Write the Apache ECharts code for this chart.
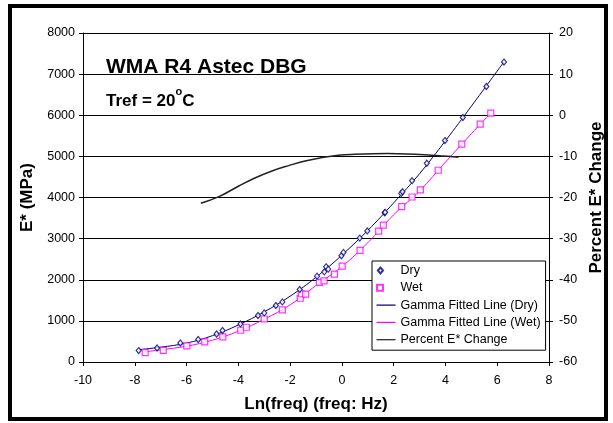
<!DOCTYPE html>
<html>
<head>
<meta charset="utf-8">
<script src="https://cdn.jsdelivr.net/npm/echarts@6/dist/echarts.min.js"></script>
<style>
html, body { margin: 0; padding: 0; background: #fff; }
#chart { width: 613px; height: 423px; }
</style>
</head>
<body>
<div id="chart"></div>
<script>
const dryLnFreq = [-7.85, -7.14, -6.24, -5.55, -4.84, -4.61, -3.92, -3.24, -3.00, -2.55, -2.30, -1.63, -0.96, -0.68, -0.61, -0.53, -0.02, 0.06, 0.69, 0.98, 1.65, 1.67, 2.29, 2.34, 2.71, 3.28, 3.98, 4.67, 5.58, 6.26];
const dryModulus = [278, 341, 463, 546, 682, 765, 926, 1130, 1194, 1374, 1462, 1764, 2088, 2192, 2314, 2258, 2582, 2665, 3013, 3187, 3630, 3640, 4100, 4141, 4409, 4833, 5384, 5944, 6699, 7293];

const wetLnFreq = [-7.60, -6.90, -5.99, -5.30, -4.60, -3.91, -3.69, -3.00, -2.30, -1.61, -1.57, -1.40, -0.87, -0.69, -0.29, 0.01, 0.70, 1.42, 1.60, 2.31, 2.71, 3.03, 3.72, 4.63, 5.34, 5.75];
const wetModulus = [229, 285, 390, 487, 609, 772, 845, 1045, 1267, 1550, 1660, 1649, 1934, 1973, 2136, 2331, 2712, 3184, 3330, 3776, 4012, 4183, 4663, 5296, 5783, 6051];

const dryFitX = [-7.85, -7, -6, -5, -4, -3, -2, -1, 0, 1, 2, 3, 4, 5, 6.26];
const dryFitY = [300, 360, 460, 640, 900, 1220, 1600, 2060, 2600, 3200, 3870, 4580, 5380, 6220, 7300];

const wetFitX = [-7.6, -7, -6, -5, -4, -3, -2, -1, 0, 1, 2, 3, 4, 5, 5.75];
const wetFitY = [250, 295, 385, 530, 750, 1040, 1390, 1860, 2320, 2900, 3580, 4160, 4860, 5550, 6051];

const pctX = [-5.45, -4.75, -3.98, -3.34, -2.70, -2.06, -1.42, -0.78, -0.14, 0.5, 1.2, 1.78, 2.5, 3.2, 3.9, 4.5];
const pctChange = [-21.4, -19.8, -17.2, -15.2, -13.55, -12.25, -11.1, -10.3, -9.72, -9.48, -9.35, -9.33, -9.4, -9.6, -9.9, -10.2];

const font = 'Liberation Sans, Arial, sans-serif';
// legend icons: marker sits at the left of a 19px slot, like the Excel legend
const lineIcon = 'path://M0,0H20V1.3H0Z';
const diamondIcon = 'path://M3,0L6,3.5L3,7L0,3.5Z M19,3.5L19,3.5';
const squareIcon = 'path://M1,0.5H7V6.5H1Z M19,3.5L19,3.5';

function pairs(xs, ys) {
    return xs.map((x, i) => [x, ys[i]]);
}

var chart = echarts.init(document.getElementById('chart'));

var option = {
    animation: false,
    backgroundColor: '#fff',
    textStyle: { fontFamily: font, color: '#000' },
    grid: { left: 83, right: 61, top: 33, bottom: 61 },
    graphic: [
        { type: 'rect', shape: { x: 10, y: 6, width: 596, height: 413 }, style: { fill: 'none', stroke: '#000', lineWidth: 4 }, z: 100 },
        { type: 'text', x: 106, y: 67, style: { text: 'WMA R4 Astec DBG', font: 'bold 21px ' + font, fill: '#000', verticalAlign: 'middle' } },
        {
            type: 'text', x: 106, y: 98,
            style: {
                text: '{a|Tref = 20}{s|o}{a|C}', fill: '#000', verticalAlign: 'middle',
                rich: {
                    a: { fontSize: 17, fontWeight: 'bold', fontFamily: font, lineHeight: 24, verticalAlign: 'bottom' },
                    s: { fontSize: 11, fontWeight: 'bold', fontFamily: font, lineHeight: 12, verticalAlign: 'top' }
                }
            }
        }
    ],
    legend: {
        orient: 'vertical', left: 372, top: 261,
        padding: [3, 5, 4, 4], itemGap: 4.3, itemWidth: 19, itemHeight: 6,
        backgroundColor: '#fff', borderColor: '#000', borderWidth: 1,
        textStyle: { fontSize: 12.5, color: '#000', fontFamily: font },
        data: [
            { name: 'Dry', icon: diamondIcon },
            { name: 'Wet', icon: squareIcon },
            { name: 'Gamma Fitted Line (Dry)', icon: lineIcon },
            { name: 'Gamma Fitted Line (Wet)', icon: lineIcon },
            { name: 'Percent E* Change', icon: lineIcon }
        ]
    },
    xAxis: {
        type: 'value', min: -10, max: 8, interval: 2,
        name: 'Ln(freq) (freq: Hz)', nameLocation: 'middle', nameGap: 34,
        nameTextStyle: { fontSize: 17, fontWeight: 'bold', color: '#000' },
        axisLine: { onZero: false, lineStyle: { color: '#000' } },
        axisTick: { length: 4, lineStyle: { color: '#000' } },
        axisLabel: { margin: 12, fontSize: 12.5, color: '#000' },
        splitLine: { show: false }
    },
    yAxis: [
        {
            type: 'value', min: 0, max: 8000, interval: 1000,
            name: 'E* (MPa)', nameLocation: 'middle', nameGap: 45, nameRotate: 90,
            nameTextStyle: { fontSize: 17, fontWeight: 'bold', color: '#000' },
            axisLine: { show: true, onZero: false, lineStyle: { color: '#000' } },
            axisTick: { show: true, length: 4, lineStyle: { color: '#000' } },
            axisLabel: { margin: 8, fontSize: 12.5, color: '#000', formatter: v => String(v) },
            splitLine: { lineStyle: { color: '#000', width: 1 } }
        },
        {
            type: 'value', position: 'right', min: -60, max: 20, interval: 10,
            name: 'Percent E* Change', nameLocation: 'middle', nameGap: 36, nameRotate: 90,
            nameTextStyle: { fontSize: 17, fontWeight: 'bold', color: '#000' },
            axisLine: { show: true, onZero: false, lineStyle: { color: '#000' } },
            axisTick: { show: true, length: 4, lineStyle: { color: '#000' } },
            axisLabel: { margin: 10, fontSize: 12.5, color: '#000' },
            splitLine: { show: false }
        }
    ],
    series: [
        {
            name: 'Dry', type: 'scatter', z: 4,
            symbol: 'diamond', symbolSize: [5, 6],
            itemStyle: { color: '#fff', borderColor: '#000080', borderWidth: 1.2 },
            data: pairs(dryLnFreq, dryModulus)
        },
        {
            name: 'Wet', type: 'scatter', z: 3,
            symbol: 'rect', symbolSize: 6,
            itemStyle: { color: '#fff', borderColor: '#ff00ff', borderWidth: 1.2 },
            data: pairs(wetLnFreq, wetModulus)
        },
        {
            name: 'Gamma Fitted Line (Dry)', type: 'line', z: 2,
            smooth: 0.4, symbol: 'none',
            lineStyle: { color: '#000080', width: 1 },
            itemStyle: { color: '#000080' },
            data: pairs(dryFitX, dryFitY)
        },
        {
            name: 'Gamma Fitted Line (Wet)', type: 'line', z: 2,
            smooth: 0.4, symbol: 'none',
            lineStyle: { color: '#ff00ff', width: 1 },
            itemStyle: { color: '#ff00ff' },
            data: pairs(wetFitX, wetFitY)
        },
        {
            name: 'Percent E* Change', type: 'line', yAxisIndex: 1, z: 2,
            smooth: 0.4, symbol: 'none',
            lineStyle: { color: '#222', width: 1.5 },
            itemStyle: { color: '#222' },
            data: pairs(pctX, pctChange)
        }
    ]
};

chart.setOption(option);
</script>
</body>
</html>
